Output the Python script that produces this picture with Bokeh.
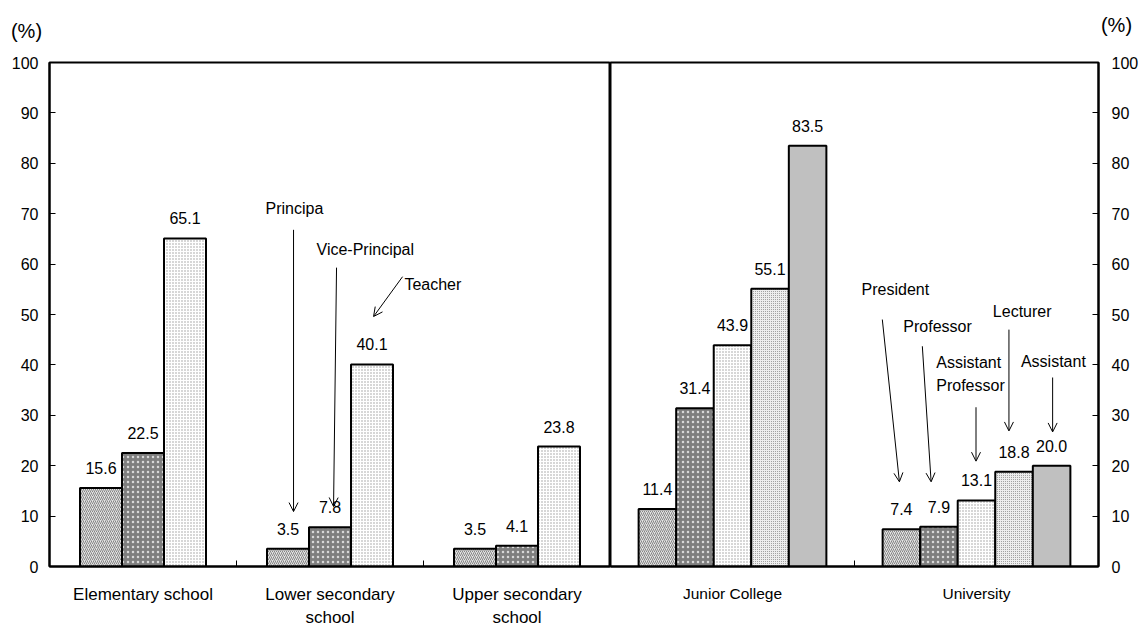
import numpy as np
from bokeh.plotting import figure
from bokeh.layouts import row, column
from bokeh.core.properties import value
from bokeh.models import (ColumnDataSource, LabelSet, Label, Arrow, OpenHead,
                          FixedTicker, Range1d)
from bokeh.embed import file_html
from bokeh.resources import INLINE

# ---- data -------------------------------------------------------------
school_levels = ["Elementary school", "Lower secondary\nschool", "Upper secondary\nschool"]
principal = [15.6, 3.5, 3.5]
vice_principal = [22.5, 7.8, 4.1]
teacher = [65.1, 40.1, 23.8]

higher_levels = ["Junior College", "University"]
president = [11.4, 7.4]
professor = [31.4, 7.9]
assistant_professor = [43.9, 13.1]
lecturer = [55.1, 18.8]
assistant = [83.5, 20.0]

y_ticks = list(range(0, 101, 10))

# ---- styling ------------------------------------------------------------
FONT = "Liberation Sans"
STRIP_H = 44          # height of the strip that carries the "(%)" unit notes
TOTAL_W, TOTAL_H = 1141, 630

STYLE_DIAG = dict(fill_color="#e2e2e2", hatch_pattern="right_diagonal_line",
                  hatch_color="#858585", hatch_scale=4, hatch_weight=1)
STYLE_DARK = dict(fill_color="#7e7e7e", hatch_pattern="dot",
                  hatch_color="#d8d8d8", hatch_scale=5, hatch_weight=1)
STYLE_LIGHT = dict(fill_color="#ffffff", hatch_pattern="dot",
                   hatch_color="#9a9a9a", hatch_scale=3, hatch_weight=1)
STYLE_STIPPLE = dict(fill_color="#eeeeee", hatch_pattern="dot",
                     hatch_color="#8a8a8a", hatch_scale=2, hatch_weight=1)
STYLE_SOLID = dict(fill_color="#c0c0c0")


def base_figure(names, width, side, cat_size):
    n_groups = len(names)
    p = figure(width=width, height=TOTAL_H - STRIP_H,
               x_range=(0, n_groups), y_range=(0, 100),
               output_backend="svg", toolbar_location=None,
               y_axis_location=side,
               min_border_top=62 - STRIP_H, min_border_bottom=62,
               min_border_left=49 if side == "left" else 0,
               min_border_right=41 if side == "right" else 0)
    p.xgrid.visible = False
    p.ygrid.visible = False
    p.outline_line_color = "black"
    p.outline_line_width = 2
    p.background_fill_color = "white"
    p.border_fill_color = "white"

    ya = p.yaxis[0]
    ya.ticker = FixedTicker(ticks=y_ticks)
    ya.major_tick_in = 6
    ya.major_tick_out = 0
    ya.minor_tick_in = 0
    ya.minor_tick_out = 0
    ya.axis_line_width = 2
    ya.major_tick_line_width = 1
    ya.major_label_text_font = FONT
    ya.major_label_text_font_size = "16px"
    ya.major_label_text_color = "black"
    ya.major_label_standoff = 11 if side == "left" else 13

    # category names at group centres, small separator ticks between groups
    xa = p.xaxis[0]
    centers = [i + 0.5 for i in range(n_groups)]
    bounds = list(range(1, n_groups))
    xa.ticker = FixedTicker(ticks=centers, minor_ticks=bounds)
    xa.major_label_overrides = {c: nm for c, nm in zip(centers, names)}
    xa.major_tick_in = 0
    xa.major_tick_out = 0
    xa.minor_tick_in = 6
    xa.minor_tick_out = 0
    xa.minor_tick_line_width = 1
    xa.axis_line_width = 2
    xa.major_label_standoff = 18
    xa.major_label_text_font = FONT
    xa.major_label_text_font_size = cat_size
    xa.major_label_text_color = "black"
    xa.major_label_text_line_height = 1.25
    return p


def draw_bars(p, series, styles, bar_w):
    k = len(series)
    centers = np.arange(len(series[0])) + 0.5
    for i, (vals, st) in enumerate(zip(series, styles)):
        xs = centers + (i - (k - 1) / 2) * bar_w
        src = ColumnDataSource(dict(x=xs, top=vals,
                                    txt=[f"{v:.1f}" for v in vals]))
        p.vbar(x="x", top="top", bottom=0, width=bar_w, source=src,
               line_color="black", line_width=2, **st)
        p.add_layout(LabelSet(x="x", y="top", text="txt", source=src,
                              text_align="center", text_baseline="middle",
                              y_offset=20, text_font=value(FONT),
                              text_font_size="16px", text_color="black"))


def note(p, txt, x, y, size="16px"):
    p.add_layout(Label(x=x, y=y, text=txt, text_align="left",
                       text_baseline="middle", text_font=FONT,
                       text_font_size=size, text_color="black"))


def pointer(p, x0, y0, x1, y1):
    p.add_layout(Arrow(end=OpenHead(size=9, line_width=1, line_color="black"),
                       x_start=x0, y_start=y0, x_end=x1, y_end=y1,
                       line_width=1, line_color="black"))


# ---- strip above the panels with the unit notes (pixel coordinates) ---------
strip = figure(width=TOTAL_W, height=STRIP_H,
               x_range=Range1d(0, TOTAL_W), y_range=Range1d(STRIP_H, 0),
               output_backend="svg", toolbar_location=None,
               x_axis_location=None, y_axis_location=None, min_border=0)
strip.xgrid.visible = False
strip.ygrid.visible = False
strip.outline_line_color = None
for ux, uy in [(26, 30), (1116, 24)]:
    strip.add_layout(Label(x=ux, y=uy, text="(%)", text_align="center",
                           text_baseline="middle", text_font=FONT,
                           text_font_size="20px", text_color="black"))

# ---- schools panel ------------------------------------------------------
left = base_figure(school_levels, 610, "left", "17px")
draw_bars(left, [principal, vice_principal, teacher],
          [STYLE_DIAG, STYLE_DARK, STYLE_LIGHT], 0.2246)

note(left, "Principa", 1.155, 71.1)
pointer(left, 1.305, 66.8, 1.305, 10.9)
note(left, "Vice-Principal", 1.428, 62.8)
pointer(left, 1.535, 59.3, 1.519, 11.9)
note(left, "Teacher", 1.898, 55.9)
pointer(left, 1.888, 57.5, 1.733, 49.6)

# ---- higher education panel ---------------------------------------------
right = base_figure(higher_levels, 531, "right", "15.5px")
draw_bars(right, [president, professor, assistant_professor, lecturer, assistant],
          [STYLE_DIAG, STYLE_DARK, STYLE_LIGHT, STYLE_STIPPLE, STYLE_SOLID], 0.1539)

note(right, "President", 1.029, 54.9)
pointer(right, 1.114, 49.0, 1.184, 16.8)
note(right, "Professor", 1.200, 47.6)
pointer(right, 1.278, 43.7, 1.314, 16.8)
note(right, "Assistant", 1.335, 40.5)
note(right, "Professor", 1.335, 35.9)
pointer(right, 1.498, 31.6, 1.498, 20.9)
note(right, "Lecturer", 1.567, 50.6)
pointer(right, 1.633, 47.0, 1.633, 26.9)
note(right, "Assistant", 1.682, 40.7)
pointer(right, 1.812, 37.5, 1.812, 26.7)

layout = column(strip, row(left, right, spacing=0), spacing=0)
open("out.html", "w").write(file_html(layout, INLINE))
